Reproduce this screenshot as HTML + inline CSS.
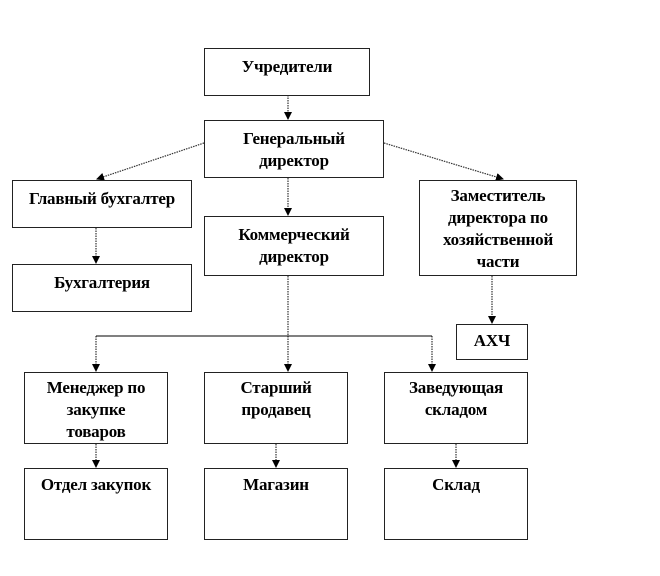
<!DOCTYPE html>
<html><head><meta charset="utf-8"><style>
body{margin:0;width:660px;height:576px;background:#fff;position:relative;overflow:hidden}
.b{position:absolute;box-sizing:border-box;border:1px solid #222;background:#fff;text-align:center;font:bold 17px/22px "Liberation Serif",serif;padding-top:7px;color:#000;letter-spacing:-0.2px;white-space:nowrap}
svg{position:absolute;left:0;top:0}
</style></head><body>
<svg width="660" height="576">
<defs><marker id="a" markerWidth="8" markerHeight="8" refX="7" refY="4" orient="auto" markerUnits="userSpaceOnUse"><path d="M0,0 L8,4 L0,8 z" fill="#000"/></marker></defs>
<g stroke="#333" stroke-width="1.2" fill="none" stroke-dasharray="1.5,1">
<line x1="288" y1="95" x2="288" y2="119" marker-end="url(#a)"/>
<line x1="288" y1="178" x2="288" y2="215" marker-end="url(#a)"/>
<line x1="204" y1="143" x2="97" y2="179" marker-end="url(#a)"/>
<line x1="384" y1="143" x2="503" y2="179" marker-end="url(#a)"/>
<line x1="96" y1="228" x2="96" y2="263" marker-end="url(#a)"/>
<line x1="492" y1="276" x2="492" y2="323" marker-end="url(#a)"/>
<line x1="288" y1="276" x2="288" y2="371" marker-end="url(#a)"/>
<line x1="96" y1="336" x2="96" y2="371" marker-end="url(#a)"/>
<line x1="432" y1="336" x2="432" y2="371" marker-end="url(#a)"/>
<line x1="96" y1="444" x2="96" y2="467" marker-end="url(#a)"/>
<line x1="276" y1="444" x2="276" y2="467" marker-end="url(#a)"/>
<line x1="456" y1="444" x2="456" y2="467" marker-end="url(#a)"/>
</g>
<line x1="96" y1="336" x2="432" y2="336" stroke="#000" stroke-width="1"/>
</svg>
<div class="b" style="left:204px;top:48px;width:166px;height:48px">Учредители</div>
<div class="b" style="left:204px;top:120px;width:180px;height:58px">Генеральный<br>директор</div>
<div class="b" style="left:12px;top:180px;width:180px;height:48px">Главный бухгалтер</div>
<div class="b" style="left:12px;top:264px;width:180px;height:48px">Бухгалтерия</div>
<div class="b" style="left:204px;top:216px;width:180px;height:60px">Коммерческий<br>директор</div>
<div class="b" style="left:419px;top:180px;width:158px;height:96px;padding-top:4px">Заместитель<br>директора по<br>хозяйственной<br>части</div>
<div class="b" style="left:456px;top:324px;width:72px;height:36px;padding-top:5px">АХЧ</div>
<div class="b" style="left:24px;top:372px;width:144px;height:72px;padding-top:4px">Менеджер по<br>закупке<br>товаров</div>
<div class="b" style="left:204px;top:372px;width:144px;height:72px;padding-top:4px">Старший<br>продавец</div>
<div class="b" style="left:384px;top:372px;width:144px;height:72px;padding-top:4px">Заведующая<br>складом</div>
<div class="b" style="left:24px;top:468px;width:144px;height:72px;padding-top:5px">Отдел закупок</div>
<div class="b" style="left:204px;top:468px;width:144px;height:72px;padding-top:5px">Магазин</div>
<div class="b" style="left:384px;top:468px;width:144px;height:72px;padding-top:5px">Склад</div>
</body></html>
